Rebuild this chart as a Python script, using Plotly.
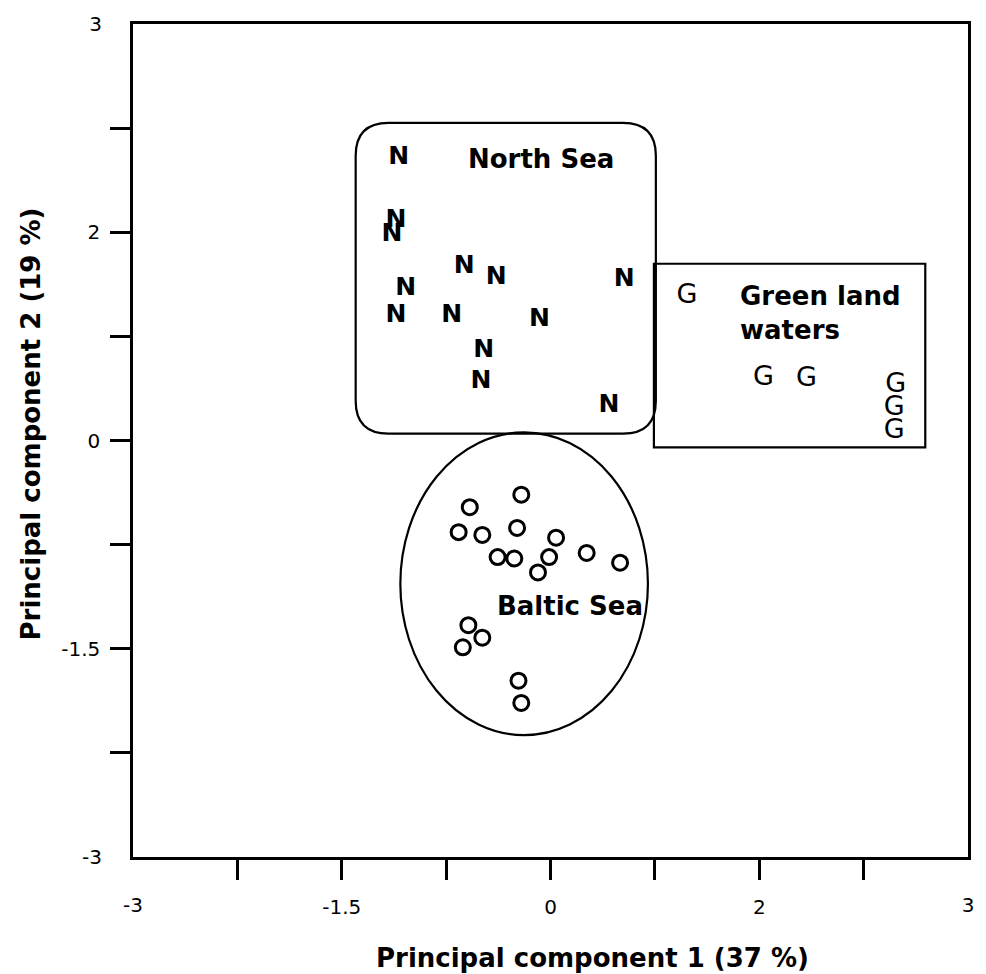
import plotly.graph_objects as go

# ---- data (PCA scores) ----
north_x = [-1.09, -1.11, -1.14, -1.04, -1.11, -0.62, -0.39, -0.71, -0.08, -0.48, -0.50, 0.53, 0.42]
north_y = [2.04, 1.58, 1.48, 1.09, 0.90, 1.25, 1.17, 0.90, 0.87, 0.65, 0.42, 1.16, 0.25]

green_x = [0.98, 1.53, 1.84, 2.48, 2.47, 2.47]
green_y = [1.04, 0.45, 0.44, 0.40, 0.23, 0.07]

baltic_x = [-0.58, -0.21, -0.66, -0.49, -0.24, 0.04, -0.38, -0.26, -0.01, -0.09, 0.26, 0.50,
            -0.59, -0.49, -0.63, -0.23, -0.21]
baltic_y = [-0.48, -0.39, -0.66, -0.68, -0.63, -0.70, -0.84, -0.85, -0.84, -0.95, -0.81, -0.88,
            -1.33, -1.42, -1.49, -1.73, -1.89]

# axis ticks (as printed on the original figure)
tick_vals = [-2.25, -1.5, -0.75, 0, 0.75, 1.5, 2.25]
tick_text = ["", "-1.5", "", "0", "", "2", ""]
end_vals = [-3, 3]
end_text = ["-3", "3"]
axis_range = [-3, 3]

x_title = "Principal component 1 (37 %)"
y_title = "Principal component 2 (19 %)"

TICKFONT = dict(family="DejaVu Sans", size=20, color="black")
TITLEFONT = dict(family="DejaVu Sans", size=26, color="black")
LABELFONT = dict(family="DejaVu Sans", size=26, color="black")

fig = go.Figure()

fig.add_trace(go.Scatter(
    x=north_x, y=north_y, mode="text", text=["N"] * len(north_x),
    textposition="middle center",
    textfont=dict(family="DejaVu Sans", size=25, color="black", weight="bold"),
    name="North Sea", showlegend=False, xaxis="x", yaxis="y"))

fig.add_trace(go.Scatter(
    x=green_x, y=green_y, mode="text", text=["G"] * len(green_x),
    textposition="middle center",
    textfont=dict(family="DejaVu Sans", size=27, color="black"),
    name="Greenland waters", showlegend=False, xaxis="x2", yaxis="y"))

fig.add_trace(go.Scatter(
    x=baltic_x, y=baltic_y, mode="markers",
    marker=dict(symbol="circle-open", size=15, color="black", line=dict(width=3, color="black")),
    name="Baltic Sea", showlegend=False, xaxis="x", yaxis="y2"))

# ---- group outlines ----
nx0, nx1, ny0, ny1 = -1.40, 0.757, 0.05, 2.288
rx, ry = 0.236, 0.237
north_path = (f"M {nx0+rx},{ny1} L {nx1-rx},{ny1} Q {nx1},{ny1} {nx1},{ny1-ry} "
              f"L {nx1},{ny0+ry} Q {nx1},{ny0} {nx1-rx},{ny0} "
              f"L {nx0+rx},{ny0} Q {nx0},{ny0} {nx0},{ny0+ry} "
              f"L {nx0},{ny1-ry} Q {nx0},{ny1} {nx0+rx},{ny1} Z")
fig.add_shape(type="path", path=north_path, xref="x", yref="y",
              line=dict(color="black", width=2.2), layer="below")
fig.add_shape(type="rect", x0=0.743, x1=2.693, y0=-0.05, y1=1.273, xref="x", yref="y",
              line=dict(color="black", width=2.2), layer="below")
fig.add_shape(type="circle", x0=-1.079, x1=0.700, y0=-2.122, y1=0.058, xref="x", yref="y",
              line=dict(color="black", width=2.2), layer="below")

# ---- group labels ----
fig.add_annotation(x=-0.07, y=2.03, text="<b>North Sea</b>", showarrow=False,
                   font=LABELFONT, xanchor="center", yanchor="middle")
fig.add_annotation(x=1.35, y=0.92, text="<b>Green land<br>waters</b>", showarrow=False,
                   font=LABELFONT, xanchor="left", yanchor="middle", align="left")
fig.add_annotation(x=0.14, y=-1.19, text="<b>Baltic Sea</b>", showarrow=False,
                   font=LABELFONT, xanchor="center", yanchor="middle")

# ---- axis titles ----
fig.add_annotation(xref="paper", yref="paper", x=0.55, y=-0.121, text=f"<b>{x_title}</b>",
                   showarrow=False, font=TITLEFONT, xanchor="center", yanchor="middle")
fig.add_annotation(xref="paper", yref="paper", x=-0.1226, y=0.52, text=f"<b>{y_title}</b>",
                   showarrow=False, font=TITLEFONT, xanchor="center", yanchor="middle",
                   textangle=-90)

common_axis = dict(range=axis_range, showgrid=False, zeroline=False, fixedrange=True)

fig.update_layout(
    width=986, height=974,
    margin=dict(l=133, r=13, t=23, b=117),
    paper_bgcolor="white", plot_bgcolor="white",
    showlegend=False,
    xaxis=dict(**common_axis, tickmode="array", tickvals=tick_vals, ticktext=tick_text,
               ticks="outside", ticklen=20, tickwidth=2.5, tickcolor="black",
               showline=True, linewidth=2.5, linecolor="black", mirror=True,
               tickfont=TICKFONT, ticklabelstandoff=10),
    yaxis=dict(**common_axis, tickmode="array", tickvals=tick_vals, ticktext=tick_text,
               ticks="outside", ticklen=20, tickwidth=2.5, tickcolor="black",
               showline=True, linewidth=2.5, linecolor="black", mirror=True,
               tickfont=TICKFONT, ticklabelstandoff=6),
    xaxis2=dict(**common_axis, overlaying="x", anchor="y", side="bottom",
                tickmode="array", tickvals=end_vals, ticktext=end_text,
                ticks="outside", ticklen=20, tickcolor="rgba(0,0,0,0)",
                showline=False, tickfont=TICKFONT, ticklabelstandoff=10),
    yaxis2=dict(**common_axis, overlaying="y", anchor="x", side="left",
                tickmode="array", tickvals=end_vals, ticktext=end_text,
                ticks="outside", ticklen=20, tickcolor="rgba(0,0,0,0)",
                showline=False, tickfont=TICKFONT, ticklabelstandoff=6),
)

fig.write_html("out.html", config={"displayModeBar": False},
               post_script="document.body.style.margin='0px';document.body.style.padding='0px';")
